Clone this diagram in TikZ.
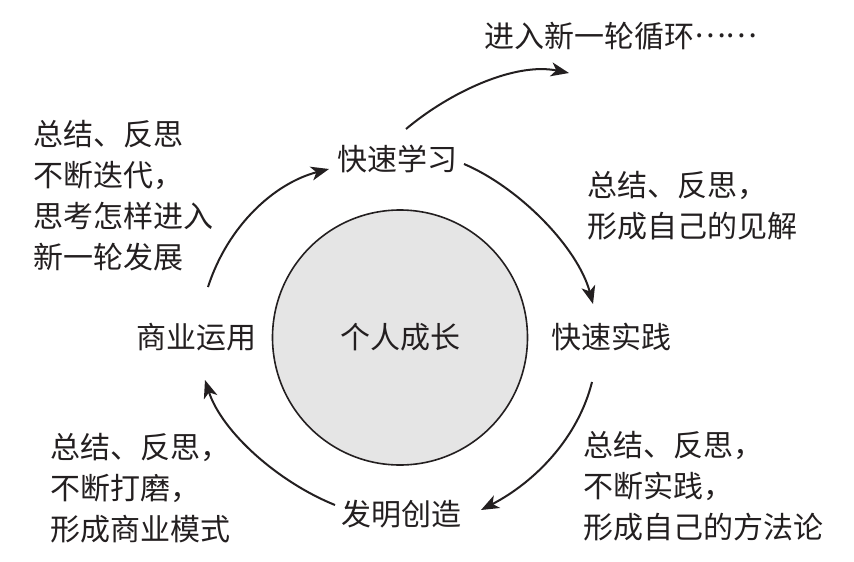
\documentclass[tikz,border=0pt]{standalone}
\usepackage{fontspec}
\newfontfamily\cjk{Noto Sans CJK SC}
\usetikzlibrary{arrows.meta}
\definecolor{ink}{HTML}{231F20}
\begin{document}
\begin{tikzpicture}[x=1pt,y=-1pt,
  txt/.style={inner sep=0pt,text=ink,font=\cjk\fontsize{30}{41}\selectfont},
  blk/.style={txt,align=left,anchor=base west},
  arr/.style={draw=ink,line width=2pt,-{Stealth[length=18pt,width=14pt,inset=5pt]}}]
\useasboundingbox (0,0) rectangle (854,562);
% centre circle
\node[circle,draw=ink,line width=1.6pt,fill=black!10,minimum size=255pt,inner sep=0pt] (core) at (400,337.5) {};
\node[txt] (coretxt) at (400,337) {个人成长};
% stages
\node[txt] (learn) at (397,159) {快速学习};
\node[txt] (practice) at (611,337) {快速实践};
\node[txt] (create) at (401,514) {发明创造};
\node[txt] (apply) at (196,337) {商业运用};
\node[txt,anchor=base west] (next) at (484,47) {进入新一轮循环\raisebox{10pt}{……}};
% notes (anchor = baseline of last line)
\node[blk] (n1) at (33,268) {总结、反思\\不断迭代，\\思考怎样进入\\新一轮发展};
\node[blk] (n2) at (587,237) {总结、反思，\\形成自己的见解};
\node[blk] (n3) at (583,538) {总结、反思，\\不断实践，\\形成自己的方法论};
\node[blk] (n4) at (50,540) {总结、反思，\\不断打磨，\\形成商业模式};
% connector end points
\coordinate (a1s) at (208,287); \coordinate (a1e) at (329,169);
\coordinate (a2s) at (464,164); \coordinate (a2e) at (593,304);
\coordinate (a3s) at (592,382); \coordinate (a3e) at (481,510);
\coordinate (a4s) at (335,505); \coordinate (a4e) at (205,380);
\coordinate (a5s) at (406,129); \coordinate (a5e) at (569,73);
% arrows
\draw[arr] (a1s) .. controls (228,225) and (275,183) .. (a1e);
\draw[arr] (a2s) .. controls (520,188) and (578,248) .. (a2e);
\draw[arr] (a3s) .. controls (578,438) and (535,482) .. (a3e);
\draw[arr] (a4s) .. controls (278,482) and (222,432) .. (a4e);
\draw[arr] (a5s) .. controls (450,92) and (515,62) .. (a5e);
\end{tikzpicture}
\end{document}
